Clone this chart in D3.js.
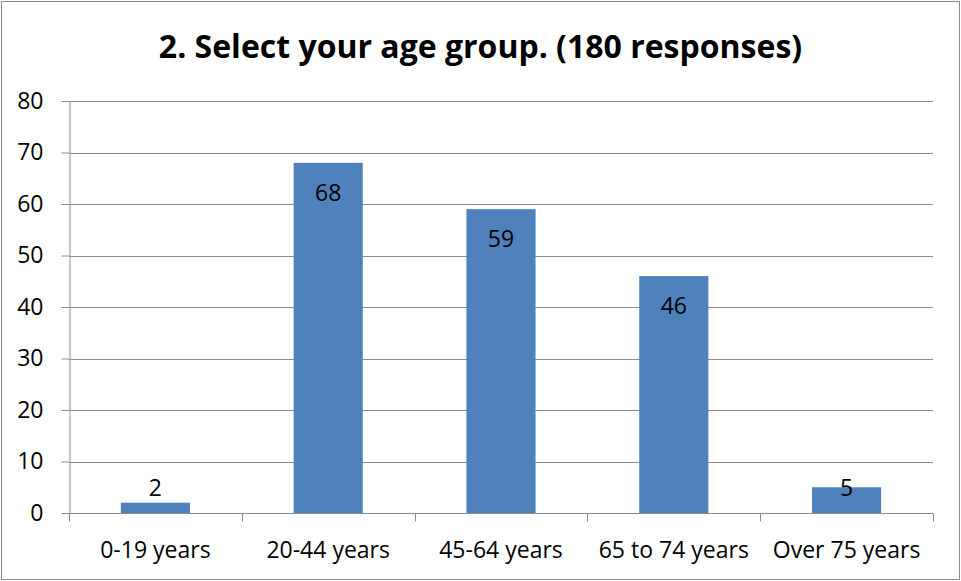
<!DOCTYPE html>
<html><head><meta charset="utf-8">
<script src="https://cdn.jsdelivr.net/npm/d3@7"></script>
<style>html,body{margin:0;padding:0;background:#fff;}</style>
</head><body>
<svg id="chart" width="961" height="581"></svg>
<script>
const categories = ["0-19 years", "20-44 years", "45-64 years", "65 to 74 years", "Over 75 years"];
const values = [2, 68, 59, 46, 5];
const yTicks = [0, 10, 20, 30, 40, 50, 60, 70, 80];
const titleText = "2. Select your age group. (180 responses)";

const W = 961, H = 581;
const m = {left: 69, right: 28, top: 101, bottom: 68};
const svg = d3.select("#chart");
const font = "'Open Sans', sans-serif";
const fs = 23;

svg.append("rect").attr("x", 1.5).attr("y", 1.5).attr("width", W - 3).attr("height", H - 3)
  .attr("fill", "#fff").attr("stroke", "#8c8c8c").attr("stroke-width", 1);

const x = d3.scaleBand().domain(categories).range([m.left, W - m.right]).paddingInner(0.6).paddingOuter(0.3);
const xb = d3.scaleBand().domain(categories).range([m.left, W - m.right]);
const y = d3.scaleLinear().domain([0, 80]).range([H - m.bottom, m.top]);

// gridlines
svg.append("g").selectAll("line").data(yTicks.filter(d => d > 0)).join("line")
  .attr("x1", m.left).attr("x2", W - m.right)
  .attr("y1", d => Math.round(y(d)) + 0.5).attr("y2", d => Math.round(y(d)) + 0.5)
  .attr("stroke", "#8c8c8c").attr("stroke-width", 1);

// y axis
const yAxis = svg.append("g").attr("transform", `translate(${m.left + 0.5},0)`)
  .call(d3.axisLeft(y).tickValues(yTicks).tickSize(8).tickPadding(18).tickSizeOuter(0));
yAxis.select(".domain").attr("stroke", "#8c8c8c");
yAxis.selectAll(".tick line").attr("stroke", "#8c8c8c");
yAxis.selectAll(".tick text").attr("font-family", font).attr("font-size", fs).attr("fill", "#000");

// bars
svg.append("g").selectAll("rect").data(values).join("rect")
  .attr("x", (d, i) => x(categories[i])).attr("width", x.bandwidth())
  .attr("y", d => y(d)).attr("height", d => y(0) - y(d))
  .attr("fill", "#4f81bd");

// x axis with ticks at category boundaries
const xg = svg.append("g").attr("transform", `translate(0,${Math.round(y(0)) + 0.5})`);
xg.append("line").attr("x1", m.left).attr("x2", W - m.right).attr("stroke", "#8c8c8c");
const bounds = categories.map(c => xb(c)).concat([xb(categories[categories.length - 1]) + xb.bandwidth()]);
xg.selectAll("line.tk").data(bounds).join("line").attr("class", "tk")
  .attr("x1", d => Math.round(d) + 0.5).attr("x2", d => Math.round(d) + 0.5)
  .attr("y1", 0).attr("y2", 8).attr("stroke", "#8c8c8c");
xg.selectAll("text").data(categories).join("text")
  .attr("x", d => xb(d) + xb.bandwidth() / 2).attr("y", 44)
  .attr("text-anchor", "middle").attr("font-family", font).attr("font-size", fs).attr("fill", "#000")
  .text(d => d);

// value labels (inside end, kept above the axis for short bars)
svg.append("g").selectAll("text").data(values).join("text")
  .attr("x", (d, i) => x(categories[i]) + x.bandwidth() / 2)
  .attr("y", d => Math.min(y(d) + 30, y(0) - 25))
  .attr("dy", "0.35em")
  .attr("text-anchor", "middle").attr("font-family", font).attr("font-size", fs).attr("fill", "#000")
  .text(d => d);

// title
svg.append("text").attr("x", W / 2).attr("y", 58).attr("text-anchor", "middle")
  .attr("font-family", font).attr("font-weight", "bold").attr("font-size", 32).attr("fill", "#000")
  .text(titleText);
</script>
</body></html>
